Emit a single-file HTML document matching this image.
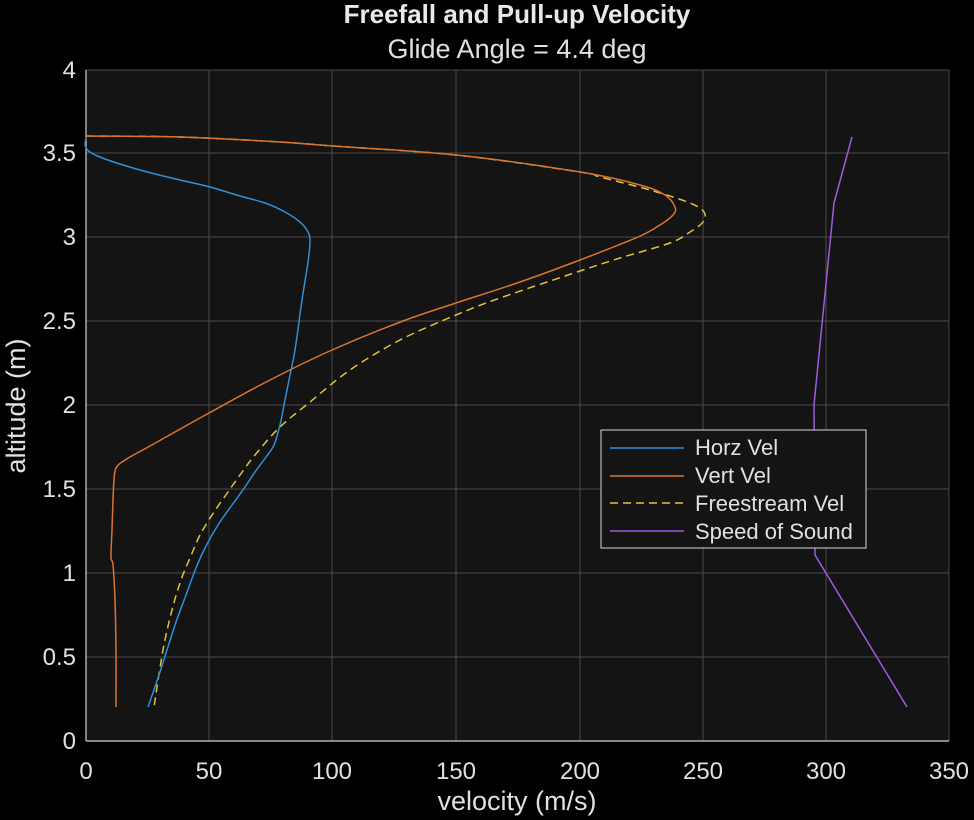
<!DOCTYPE html>
<html><head><style>
body{margin:0;background:#000;}
svg{display:block;font-family:"Liberation Sans",sans-serif;}
</style></head><body>
<svg id="s" width="974" height="820" viewBox="0 0 974 820">
<rect width="974" height="820" fill="#000"/>
<rect x="86" y="70" width="863" height="671" fill="#141414"/>
<g stroke="#4a4a4a" stroke-width="1">
<line x1="209" y1="70" x2="209" y2="741"/><line x1="332" y1="70" x2="332" y2="741"/>
<line x1="456" y1="70" x2="456" y2="741"/><line x1="580" y1="70" x2="580" y2="741"/>
<line x1="703" y1="70" x2="703" y2="741"/><line x1="826" y1="70" x2="826" y2="741"/>
<line x1="86" y1="657" x2="949" y2="657"/><line x1="86" y1="573" x2="949" y2="573"/>
<line x1="86" y1="489" x2="949" y2="489"/><line x1="86" y1="405" x2="949" y2="405"/>
<line x1="86" y1="321" x2="949" y2="321"/><line x1="86" y1="237" x2="949" y2="237"/>
<line x1="86" y1="153" x2="949" y2="153"/><line x1="86" y1="70" x2="949" y2="70"/>
<line x1="949" y1="70" x2="949" y2="741"/>
</g>
<g stroke="#d0d0d0" stroke-width="1.2">
<line x1="86" y1="70" x2="86" y2="741"/><line x1="86" y1="741" x2="949" y2="741"/>
</g>
<g fill="#e0e0e0" font-size="24" text-anchor="middle">
<text x="86" y="779">0</text><text x="209" y="779">50</text><text x="332" y="779">100</text>
<text x="456" y="779">150</text><text x="580" y="779">200</text><text x="703" y="779">250</text>
<text x="826" y="779">300</text><text x="949" y="779">350</text>
</g>
<g fill="#e0e0e0" font-size="24" text-anchor="end">
<text x="76" y="749">0</text><text x="76" y="665">0.5</text><text x="76" y="581">1</text>
<text x="76" y="497">1.5</text><text x="76" y="413">2</text><text x="76" y="329">2.5</text>
<text x="76" y="245">3</text><text x="76" y="161">3.5</text><text x="76" y="78">4</text>
</g>
<text x="517" y="23" fill="#e8e8e8" font-size="26" font-weight="bold" text-anchor="middle">Freefall and Pull-up Velocity</text>
<text x="517" y="58" fill="#e0e0e0" font-size="27" text-anchor="middle">Glide Angle = 4.4 deg</text>
<text x="517" y="810" fill="#e0e0e0" font-size="27" text-anchor="middle">velocity (m/s)</text>
<text transform="translate(25,406) rotate(-90)" fill="#e0e0e0" font-size="27" text-anchor="middle">altitude (m)</text>
<g fill="none" stroke-width="1.5" stroke-linejoin="round">
<path id="yv" stroke="#e3c13a" stroke-dasharray="8,5"/>
<path id="ov" stroke="#d9742c"/>
<path id="bv" stroke="#2f8fd8"/>
<polyline stroke="#a05ae0" points="852,137 834,203 814,405 815,555 907,707"/>
</g>
<rect x="601" y="430" width="265" height="118" fill="#141414" stroke="#d8d8d8" stroke-width="1"/>
<g stroke-width="1.4">
<line x1="610" y1="448" x2="684" y2="448" stroke="#2f8fd8"/>
<line x1="610" y1="476" x2="684" y2="476" stroke="#d9742c"/>
<line x1="610" y1="503" x2="684" y2="503" stroke="#e3c13a" stroke-dasharray="8,5"/>
<line x1="610" y1="531" x2="684" y2="531" stroke="#a05ae0"/>
</g>
<g fill="#e0e0e0" font-size="22">
<text x="695" y="455">Horz Vel</text><text x="695" y="483">Vert Vel</text>
<text x="695" y="511">Freestream Vel</text><text x="695" y="539">Speed of Sound</text>
</g>
</svg>
<script>
(function(){
function cr(p){var d="M"+p[0][0]+","+p[0][1];for(var i=0;i<p.length-1;i++){var a=p[i-1]||p[i],b=p[i],c=p[i+1],e=p[i+2]||c;
d+=" C"+(b[0]+(c[0]-a[0])/6).toFixed(1)+","+(b[1]+(c[1]-a[1])/6).toFixed(1)+" "+(c[0]-(e[0]-b[0])/6).toFixed(1)+","+(c[1]-(e[1]-b[1])/6).toFixed(1)+" "+c[0]+","+c[1];}return d;}
var T=[[86,136],[180,137],[280,142],[333,146],[456,155],[580,172]];
var O=T.concat([[640,185],[665,195],[675,207],[673,215],[660,225],[638,237],[580,260],[520,282],[456,303],[403,321],[332,350],[270,380],[209,413],[150,446],[125,460],[116,468],[114,480],[113,500],[112,530],[111,557],[113,565],[115,600],[116,650],[116,707]]);
var Y=T.concat([[600,177],[650,190],[690,203],[704,212],[703,222],[690,232],[670,243],[620,258],[580,271],[500,298],[456,315],[400,340],[350,370],[310,402],[280,427],[255,455],[240,475],[228,492],[214,512],[200,535],[190,558],[181,580],[172,610],[163,650],[154,707]]);
var B=[[86,137],[86,148],[100,157],[140,170],[180,180],[210,187],[240,196],[265,203],[285,212],[300,222],[308,232],[310,242],[308,262],[302,300],[295,350],[289,380],[284,405],[280,425],[274,445],[266,457],[255,472],[245,487],[232,505],[218,525],[206,546],[196,568],[186,595],[176,622],[167,650],[158,678],[148,707]];
document.getElementById("ov").setAttribute("d",cr(O));
document.getElementById("yv").setAttribute("d",cr(Y));
document.getElementById("bv").setAttribute("d",cr(B));
})();
</script>
</body></html>
